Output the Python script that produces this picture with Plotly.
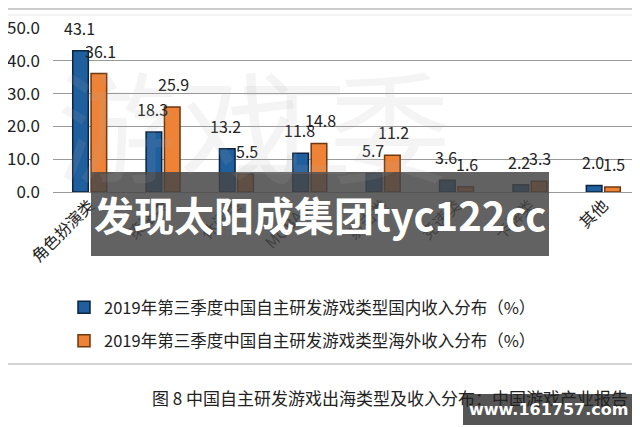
import plotly.graph_objects as go

categories = ["角色扮演类", "策略类", "休闲类", "MOBA类", "射击类", "竞速类", "卡牌类", "其他"]
domestic = [43.1, 18.3, 13.2, 11.8, 5.7, 3.6, 2.2, 2.0]
overseas = [36.1, 25.9, 5.5, 14.8, 11.2, 1.6, 3.3, 1.5]
tick_vals = [0, 10, 20, 30, 40, 50]
name_dom = "2019年第三季度中国自主研发游戏类型国内收入分布（%）"
name_ovs = "2019年第三季度中国自主研发游戏类型海外收入分布（%）"
caption = "图 8 中国自主研发游戏出海类型及收入分布：中国游戏产业报告"
overlay_text = "发现太阳成集团tyc122cc"
site_text = "www.161757.com"
bg_mark = ["游", "戏", "工", "委"]

FONT = "Noto Sans CJK SC, Noto Sans, sans-serif"
OFF = 8  # page body margin offset
PX0, PX1, PY0, PY1 = 53 - OFF, 640 - OFF, 192 - OFF, 28 - OFF  # plot area in figure pixels


def px(xp):
    # xp: pixel in window coordinates
    return (xp - OFF - PX0) / (PX1 - PX0)


def py(yp):
    return (PY0 - (yp - OFF)) / (PY0 - PY1)


fig = go.Figure()
fig.add_trace(go.Bar(
    x=categories, y=domestic, name=name_dom, legendgroup="a",
    marker=dict(color="#1f5f9e", line=dict(color="#0b2440", width=1.5)),
))
fig.add_trace(go.Bar(
    x=categories, y=overseas, name=name_ovs, legendgroup="b",
    marker=dict(color="#ee8236", line=dict(color="#6e3810", width=1.5)),
))

annotations = []
for c, v in zip(categories, domestic):
    annotations.append(dict(x=c, y=v, xref="x", yref="y", text=f"{v:.1f}", showarrow=False,
                            xshift=-10.5, yshift=9, yanchor="bottom",
                            font=dict(family=FONT, size=16, color="#222")))
for c, v in zip(categories, overseas):
    annotations.append(dict(x=c, y=v, xref="x", yref="y", text=f"{v:.1f}", showarrow=False,
                            xshift=10.5, yshift=9, yanchor="bottom",
                            font=dict(family=FONT, size=16, color="#222")))

for ch, cx in zip(bg_mark, [55, 178, 292, 452]):
    annotations.append(dict(x=px(cx), y=py(122), xref="paper", yref="paper", text=ch, showarrow=False,
                            font=dict(family=FONT, size=120, color="rgba(170,170,170,0.13)")))
annotations.append(dict(x=px(150), y=py(397), xref="paper", yref="paper", text=caption,
                        showarrow=False, xanchor="left", yanchor="middle",
                        font=dict(family=FONT, size=17, color="#222")))
annotations.append(dict(x=px(320), y=py(214), xref="paper", yref="paper", text=f"<b>{overlay_text}</b>",
                        showarrow=False, xanchor="center", yanchor="middle",
                        font=dict(family=FONT, size=40, color="white")))
annotations.append(dict(x=px(548), y=py(409), xref="paper", yref="paper", text=f"<b>{site_text}</b>",
                        showarrow=False, xanchor="center", yanchor="middle",
                        font=dict(family="DejaVu Sans, sans-serif", size=16, color="white")))

shapes = [
    dict(type="line", xref="paper", yref="paper", x0=px(0), x1=1, y0=py(9), y1=py(9),
         line=dict(color="#999", width=1.2)),
    dict(type="line", xref="paper", yref="paper", x0=px(0), x1=1, y0=py(15), y1=py(15),
         line=dict(color="#e6e6e6", width=1)),
    dict(type="line", xref="paper", yref="paper", x0=px(0), x1=1, y0=py(364), y1=py(364),
         line=dict(color="#aaa", width=1.2)),
    dict(type="rect", xref="paper", yref="paper", x0=px(91), x1=px(549), y0=py(256), y1=py(172),
         fillcolor="rgba(70,70,70,0.85)", line=dict(width=0), layer="above"),
    dict(type="rect", xref="paper", yref="paper", x0=px(463), x1=px(632), y0=py(425), y1=py(394),
         fillcolor="rgba(70,70,70,0.92)", line=dict(width=0), layer="above"),
]

fig.update_layout(
    width=640, height=427,
    margin=dict(l=PX0, r=640 - PX1, t=PY1, b=427 - PY0, autoexpand=False),
    paper_bgcolor="white", plot_bgcolor="white",
    barmode="group", bargap=0.5, bargroupgap=0.15,
    font=dict(family=FONT, color="#222"),
    showlegend=True,
    legend=dict(x=px(64), y=py(290), xanchor="left", yanchor="top",
                font=dict(family=FONT, size=16.5, color="#222"), tracegroupgap=9,
                bgcolor="rgba(0,0,0,0)", itemwidth=30),
    annotations=annotations,
    shapes=shapes,
    xaxis=dict(tickangle=-45, tickfont=dict(family=FONT, size=16, color="#222"), showline=False,
               ticks="", automargin=False),
    yaxis=dict(range=[0, 50], tickvals=tick_vals, tickformat=".1f", showgrid=True, gridcolor="#999",
               gridwidth=1, zeroline=True, zerolinecolor="#999", zerolinewidth=1,
               tickfont=dict(family=FONT, size=17, color="#222"), ticklabelstandoff=12, automargin=False),
)

fig.write_html("out.html")
